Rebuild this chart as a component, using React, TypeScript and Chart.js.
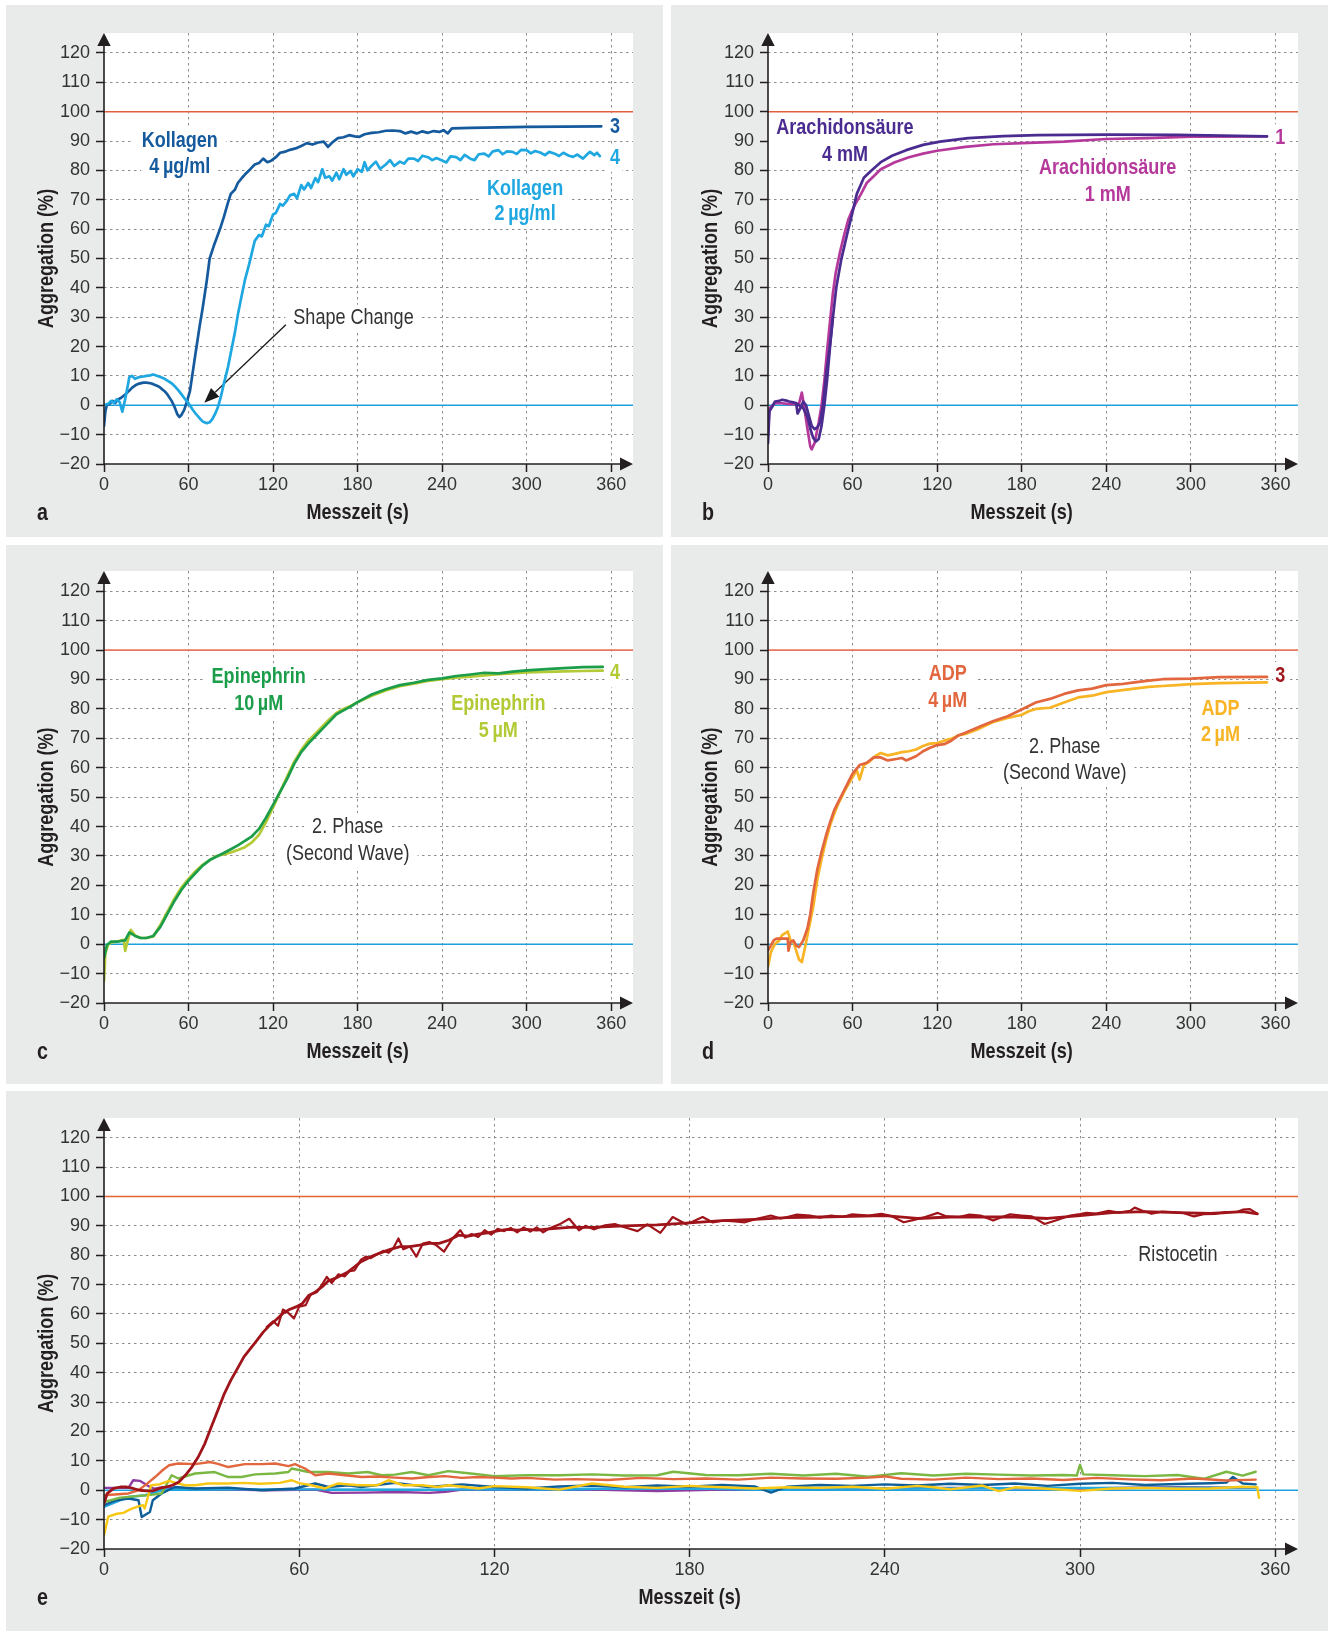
import React, { useEffect, useRef } from 'react';
import { Chart, registerables } from 'chart.js';

Chart.register(...registerables);

// ---------------- tick labels ----------------
const xTickValues = [0, 60, 120, 180, 240, 300, 360];
const yTickValues = [-20, -10, 0, 10, 20, 30, 40, 50, 60, 70, 80, 90, 100, 110, 120];

// ---------------- panel a : Kollagen ----------------
const kollagen4T = [0,1,2,4,6,8,10,12,15,18,20,23,25,28,30,33,35,38,40,43,45,48,50,52,53.5,55,57,59,61,63,65,68,70,73,75,78,80,83,85,88,90,93,95,98,100,104,107,110,113,116,119,122,125,128,132,136,140,144,148,152,156,159,162,166,170,174,178,181,185,190,195,200,205,210,214,218,222,226,230,234,238,241,244,247,260,300,353];
const kollagen4V = [-7,-2,0,0.5,1.5,0.8,2,2.5,3.7,5,6,7,7.4,7.7,7.7,7.5,7.2,6.6,6,4.8,3.7,1.5,-0.5,-3,-4,-3.3,-1.5,1.5,4.8,11.3,17.8,27.3,33,42.6,50,54.4,57,61,64,69,72,73.5,75.7,77.5,78.6,80.5,82,82.5,84,82.8,83.4,84.5,86,86.3,87,87.5,88.3,89.3,88.8,89.5,89.8,88,89.5,91,91.3,92,91.6,91.4,92.3,92.8,93,93.5,93.6,93.4,92.6,93.2,92.6,93.3,92.8,93.4,93.1,93.7,92.6,94.3,94.5,94.8,95];
const kollagen2T = [0,3,5,7,9,11,13,15,17,18,20,22,25,28,30,33,35,38,40,43,45,48,50,53,55,58,60,63,65,68,70,73,75,77,79,81,83,85,88,90,93,95,98,100,103,105,107,110,112,115,117,120,122,125,127,130,132,135,137,140,142,145,147,150,152,155,157,160,162,165,167,170,172,175,177,180,183,185,187,190,193,196,200,203,206,210,213,216,220,223,226,230,233,236,240,243,246,250,253,256,260,263,266,270,273,276,280,283,286,290,293,296,300,303,306,310,313,316,320,323,326,330,333,336,340,343,345,348,350,352];
const kollagen2V = [0,0.5,1.5,0.8,2,1.2,-2.2,2,7,9.6,10,9,9.6,9.8,10,10.2,10.5,10,9.6,9,8.4,7.5,6.6,5,3.7,1.8,0.7,-1.5,-2.8,-4.5,-5.5,-6.1,-5.8,-4.6,-2.8,-0.5,3,7.2,13,17.8,25,30.8,38,42.6,48,52,56,58,57.5,61.5,61,65,65.5,68.6,68,69.8,71.5,72,70.5,75,73.5,75.7,74,77.4,76,80.4,77.5,78,76.5,79.2,77,80.4,78.5,79.8,78,80.4,79.5,82.8,80,81.6,83,80.5,82,83.5,81.5,83,82.3,84,84,83.2,85,84.5,83.5,84.2,83.4,82.7,84.8,84.5,83.5,85.3,84,83.5,85.5,85.7,84.8,86.5,86.9,85.5,86.5,86.3,85.6,87,86.9,85.8,86.6,86,85.2,86.3,85.7,84.9,86,85,84.6,85.4,84,85.5,86.3,85.2,86,84.9];

// ---------------- panel b : Arachidonsäure ----------------
const arachi4T = [0,1,3,5,8,10,13,15,18,20,21,23,25,27,29,31,33,35,37,39,41,43.6,46,48.5,52,56,59.6,63,68,73,80,88,98,110,122,142,167,191,241,290,354];
const arachi4V = [-12.9,-2,-0.5,1.3,1.5,1.9,1.6,1.3,1,0.7,-2.8,-1,1.3,0,-3.5,-7,-8.1,-7.5,-5.8,0,9.6,19,29.6,40.3,49.7,58,65,72,77.5,79.8,82.8,85,86.9,88.7,89.8,91,91.7,92,92.2,92.1,91.6];
const arachi4bT = [20,22,25,28,30,32,34,36,38,40,42,44,46];
const arachi4bV = [0.7,0,-1,-4,-8,-11,-12.3,-11.5,-7,0,9,20,30];
const arachi1T = [0,1,5,10,15,20,22,24,25.5,28,30,31,33,36,38,40,42,44,46,48,51,54,57,59,62,66,70,75,80,90,100,110,120,140,160,180,210,240,270,300,354];
const arachi1V = [-10,-1,0.7,0.7,0.4,0.4,0.5,4.3,0,-8.1,-14,-15,-12.9,-5.8,0,8.4,19,28.5,38,45,52,58,63.3,65.6,68.6,72,75.7,78,80.4,82.8,84.5,85.7,86.7,88,88.9,89.3,89.8,90.7,91,91.5,91.6];

// ---------------- panel c : Epinephrin ----------------
const epi10T = [0,2,5,10,15,18,22,26,30,35,40,45,50,55,60,65,70,75,80,85,90,95,100,105,110,115,120,125,130,135,140,145,150,155,160,165,170,175,180,190,200,210,220,230,240,250,260,270,280,290,300,320,340,354];
const epi10V = [-4.8,-0.4,0.9,0.9,1.3,4,2.8,2.1,2.1,2.8,5.9,10.3,14.7,18.5,21.6,24.2,26.7,28.6,29.8,31,32.3,33.6,35.1,36.7,39.2,43,47.4,51.8,56.2,61.3,65.3,68.2,70.7,73.2,75.7,78.2,79.5,80.8,82.3,84.9,86.7,88.1,88.9,89.9,90.4,91.2,91.7,92.3,92.1,92.7,93.1,93.7,94.2,94.3];
const epi5T = [0,1,3,5,10,14,15,17,19,22,26,30,35,40,45,50,55,60,65,70,75,80,85,90,95,100,105,110,115,120,125,130,135,140,145,150,155,160,165,170,175,180,190,200,210,220,230,240,250,260,270,280,290,300,320,340,354];
const epi5V = [-12.5,-3,0,0.5,1,1.5,-2.3,1.5,4.9,3,2.1,2.1,2.6,6.5,11,15.5,19.3,22.2,24.8,27,28.6,30,30.5,31.2,32,33,34.6,37.2,41.5,46.5,51.8,57,62,66,69.2,71.6,74,76.5,78.6,80,81,82.3,84.5,86.3,87.7,88.6,89.5,90.1,90.6,91,91.4,91.8,92.1,92.4,92.7,92.9,93];

// ---------------- panel d : ADP ----------------
const adp4T = [0,2,4,6,10,14,14.5,16,18,20,22,25,28,30,32,35,38,41,44,47,50,55,60,65,70,75,80,85,90,95,98,105,110,115,120,125,130,135,140,150,160,170,180,190,200,210,220,230,240,250,260,270,280,290,300,320,354];
const adp4V = [-2.2,-0.5,1.3,1.9,1.9,1.9,-2.2,0.7,1.3,-0.5,-1,1.3,5.4,10.2,17.2,25.5,31.4,36.7,41.4,45.6,48.5,53.2,58,60.9,61.7,63.5,63.5,62.5,62.9,63.3,62.5,63.9,65.6,66.8,67.7,68,69.2,71,71.9,73.9,75.9,77.5,79.8,82.2,83.4,85.1,86.3,86.9,88.1,88.4,89,89.6,90.1,90.2,90.3,90.8,90.9];
const adp2T = [0,2,3,5,8,10,12,14,16,18,20,22,24,26,29,32,35,38,41,44,47,50,55,60,63,65,68,72,76,80,85,90,95,100,105,110,115,120,125,130,135,140,150,160,170,180,185,190,200,210,220,230,240,250,260,270,280,290,300,320,354];
const adp2V = [-7.6,-2.8,-1.7,0.1,1.3,3.1,3.7,4.3,1.3,0.7,-2.2,-5.2,-6.1,-1.7,5.4,12.5,22,29,35,40.3,44.4,47.9,52.7,56.8,59.1,56,60.9,62.1,63.9,65,64.2,64.7,65.3,65.6,66.2,67.4,68.2,68.4,69.2,69.8,71,71.5,73.3,75.6,76.9,78,79.2,80,80.4,82.2,83.9,84.5,85.7,86.3,86.9,87.5,87.8,88.1,88.4,88.8,89];

// ---------------- panel e : Ristocetin + others ----------------
const ristoT = [0,1,3,5,7,9,11,13,15,17,19,21,23,25,27,29,31,33,35,37,39,41,43,45,47,49,51,53,55,57,59,61,63,65,67,69,71,73,75,77,79,81,83,85,88,91,94,97,100,103,106,109,112,115,118,121,124,127,130,133,136,143,150,160,170,180,190,200,210,220,230,240,250,260,270,280,290,300,310,320,330,340,350,354.5];
const ristoV = [-4.5,-1.1,0.6,1.1,1.1,0.6,0,-0.2,-0.2,0.6,1.1,1.7,2.8,5.1,7.9,11.4,15.9,21.6,27.2,32.9,37.5,41.4,45.4,48.2,51,53.9,56.2,58.1,60.2,61.5,62.4,63.6,66.4,67.5,69.2,71.3,72.1,73.2,74.3,76,77.8,78.9,80,80.8,82,82.9,82.9,83.4,84,84,85.1,86.8,86.5,87.2,87.6,88.3,88.8,88.5,88.8,88.5,88.9,89.5,89.5,90,90.3,91,91.8,92.2,92.8,93,93.2,93.5,92.5,93,93,93,92.5,93.5,94.5,94.8,94.5,94.2,94.8,94.1];
const ristoNoisyT = [50,52,53.5,55,56.5,58.4,60,62,63.5,65.5,67,68.5,70,72,74,75.5,77,79,80.5,82,84,86,87.5,89,90.5,92,94,96,98,100,102,104.5,107,109.5,111,113,115,117,119,121,123,125,127,129,131,133,135,137,140,143,146,148,150.5,154,157,160,164,167,171,174.8,178.8,181,184,187,190.6,194,197,201,205,208,210,213,217,220,223.5,227,230,235,239,242,245.8,249,252.4,256.3,259,262.8,266,269.4,273.3,276,278.5,282,285.2,289.1,293,297,300,302,305,308.8,312,315.4,316.8,319,322,325,328.5,332,335,338,341.7,345,348.2,350,352.2,354.5];
const ristoNoisyV = [55.5,57.5,56,61.5,60.5,58.5,62.5,63,66.5,67.5,70,72.6,70.5,73.5,72.8,74.6,74.8,78.5,79.5,79,80.3,81.5,80.8,82.5,85.7,82,83,79.5,84,84.5,83.5,81.2,85.5,88.5,86,87.2,86.2,88.5,87,89,88.2,89.3,87.8,89.5,88,89.5,87.8,89.2,90.5,92.4,88.5,90,88.8,90.2,90.6,89.5,88.2,90.5,87.6,93,90.6,91.5,93,91.2,91.8,91.5,91.2,92.5,93.5,92.5,93,93.8,93.5,92.8,93.5,93,93.9,93.5,94.1,93.3,91.2,92,93,94.4,93.2,93,93.8,93.5,91.8,93,93.9,93.5,93.2,90.6,92,93.5,94,94.4,94.2,95.1,94.5,95.1,96.2,95.2,94.1,94.8,94.7,94.3,93.2,94,94.1,94.7,94.7,95.5,95.7,94.1];
const eOrangeT = [0,7.5,10.6,13,15.7,18,20,22.8,28,32.6,35,38.2,43.3,48.5,52.6,56.7,58.7,61.8,64.9,69,74.1,79.2,84,89.4,94.6,100,104.8,110,115,120,125.3,130,138.6,145,155,165,175,185,195,205,215,225,235,240,245,255,265,275,285,295,305,315,325,335,345,354];
const eOrangeV = [-1.7,-1.1,0,2,4.5,6.8,8.5,9.1,8.9,9.6,9,7.9,8.9,8.9,9.1,8.2,8.9,7.4,5.1,5.7,5.1,4.5,4.7,4.3,4,4.5,4.8,4.2,4.5,4.3,4,4.2,3.6,3.8,3.5,4.2,3.8,4,3.6,4.3,4,3.9,4.3,4.7,3.9,3.6,4.3,3.8,4,3.5,4.2,3.7,3.4,4,3.3,3.6];
const eGreenT = [0,5,10,15,17.7,20.8,22.8,28,34,38.2,42.3,46.4,52.6,56.7,57.7,62.8,69,75,81,85.3,89.4,94.6,99.7,105.8,112,120,130,140,150,160,170,175,185,195,205,215,225,235,245,255,265,275,285,295,299,300,301,310,320,330,338,345,350,354];
const eGreenV = [-4,-2.5,-2,-1.5,-1.1,5.1,4,5.7,6.2,4.5,4.5,5.4,5.7,6.2,7.4,6.2,6.2,5.7,6.2,5.1,5.3,6.2,5.1,6.5,5.8,4.8,5.1,5.1,5.4,5,5.1,6.3,5.2,5.1,5.6,5,5.6,4.6,5.8,5,5.6,5.3,5,5.2,5,8.7,5.4,5.1,4.8,5.2,3.9,6.3,5,6.3];
const eYellowT = [0,1.3,4,6,8,10.5,12,12.5,14.5,17,20,22,25,28,32,38,43,48,54,57.7,60,63.8,67.9,72,78,84,87.4,92,97.7,102.5,106,110,115,120,130,140,150,160,170,180,190,200,210,220,230,240,250,255,260,270,275,280,290,300,310,320,330,340,350,354.5,355];
const eYellowV = [-15.3,-9,-8,-7.7,-6.5,-5.5,-5.1,-6.2,1.7,2,3.2,2.5,1.7,1.7,2.3,2.3,2.5,2.2,2.5,3.4,2.4,1.7,0.6,2.3,1.7,1.7,3.4,1.7,1.7,1.1,1.7,1.2,0.6,1.4,1,0.2,2.3,1.2,0.8,1.5,1,0.6,1,0.8,1.2,0.5,1.5,1,0.3,1.6,-0.3,1,0.5,-0.2,0.6,0.8,0.5,0.6,1.2,1,-2.6];
const eDarkBlueT = [0,3.4,7.5,10.6,11.6,14.1,15,17.7,21.8,28,38.2,48.5,58.7,64.9,69,75,79,89.4,99.7,110,120,130,140,150,160,170,180,190,200,205,210,220,230,240,250,260,270,280,290,300,310,320,330,340,345,347,350,354];
const eDarkBlueV = [-5.1,-3.5,-2.8,-3.4,-9.1,-7.4,-3.4,-1.1,1.1,0.6,0.9,0,0.6,2.3,1.1,1.7,1.1,2.5,1.1,2,1.1,0.6,1.3,1.6,1,1.6,1.2,1.8,1.3,-0.8,1.2,1.8,1.5,2,1.6,2.2,1.8,2.3,1.5,2.2,2.5,1.8,2.1,2.4,2.6,4.5,2.3,2];
const eLightBlueT = [0,7.5,12.7,17.7,22.8,30,60,100,150,200,250,300,354];
const eLightBlueV = [-5.7,-2.3,-1.7,0,0.6,0.3,0.3,0.2,0.5,0.5,0.6,0.8,0.9];
const ePurpleT = [0,7.5,9,11,13.5,15.5,17.7,25,40,50,65,70,80,90,100,105,110,120,140,170,200,230,260,300,330,354];
const ePurpleV = [0.8,0.8,3.4,3.2,1.5,0.5,1,0.5,0.2,0,0.2,-0.9,-0.8,-0.6,-0.9,-0.5,0.2,0.3,0.5,-0.3,0.5,0.6,0.8,0.6,1,0.8];

// ---------------- styles ----------------
const SANS = "'Liberation Sans', Arial, sans-serif";
const CONDENSE = 0.82;
const GRAY_BG = '#e9eaea';
const AXIS = '#231f20';
const GRID = '#8e8e8e';
const TEXT = '#333333';
const LINE0 = '#1ca1dc';

const DARKBLUE = '#165a9e';
const LIGHTBLUE = '#1fa7e1';
const INDIGO = '#4a2c90';
const MAGENTA = '#b5399b';
const GREEN = '#1b9d4a';
const YGREEN = '#b3c935';
const ORANGE = '#e2663e';
const AMBER = '#f8b424';
const DARKRED = '#a0171d';
const RISTO = '#9f141a';
const EGREEN = '#7bb843';
const EYELLOW = '#f8c814';
const EDBLUE = '#0e5e97';
const ELBLUE = '#22a7df';
const EPURPLE = '#8e3ca0';

type Series = { t: number[]; v: number[]; color: string; width: number };
type Lbl = { t: number; v: number; text: string; color: string; bold: boolean; size: number; pad: number };

const S = (t: number[], v: number[], color: string, width = 2.7): Series => ({ t, v, color, width });
const B = (t: number, v: number, text: string, color: string, pad = 8): Lbl => ({ t, v, text, color, bold: true, size: 22, pad });
const R = (t: number, v: number, text: string): Lbl => ({ t, v, text, color: TEXT, bold: false, size: 22, pad: 8 });
const N = (t: number, v: number, text: string, color: string): Lbl => ({ t, v, text, color, bold: true, size: 22, pad: 2 });

const TS = '\u2009';

const PANELS = [
  {
    letter: 'a', box: [6, 5, 657, 532], area: [104, 33, 633, 464], xMax: 375.5, yMax: 126.8, line100: '#e2603c',
    series: [S(kollagen2T, kollagen2V, LIGHTBLUE), S(kollagen4T, kollagen4V, DARKBLUE)],
    labels: [
      B(53.8, 90, 'Kollagen', DARKBLUE), B(53.8, 81.1, '4' + TS + 'µg/ml', DARKBLUE),
      B(298.9, 73.6, 'Kollagen', LIGHTBLUE), B(298.9, 65.1, '2' + TS + 'µg/ml', LIGHTBLUE),
      N(362.7, 94.8, '3', DARKBLUE), N(362.7, 84.2, '4', LIGHTBLUE),
      R(177.1, 29.6, 'Shape Change'),
    ],
    arrow: { t1: 129.1, v1: 27.4, t2: 71.2, v2: 0.9 },
  },
  {
    letter: 'b', box: [671, 5, 657, 532], area: [768, 33, 1298, 464], xMax: 376, yMax: 126.8, line100: '#e2603c',
    series: [S(arachi4T, arachi4V, INDIGO), S(arachi4bT, arachi4bV, INDIGO), S(arachi1T, arachi1V, MAGENTA)],
    labels: [
      B(54.6, 94.3, 'Arachidonsäure', INDIGO), B(54.6, 85.2, '4 mM', INDIGO),
      B(241, 80.7, 'Arachidonsäure', MAGENTA), B(241, 71.6, '1 mM', MAGENTA),
      N(363.4, 91.1, '1', MAGENTA),
    ],
  },
  {
    letter: 'c', box: [6, 545, 657, 539], area: [104, 571, 633, 1003], xMax: 375.5, yMax: 126.9, line100: '#e6775c',
    series: [S(epi10T, epi10V, GREEN), S(epi5T, epi5V, YGREEN)],
    labels: [
      B(109.8, 90.8, 'Epinephrin', GREEN), B(109.8, 81.7, '10' + TS + 'µM', GREEN),
      B(279.9, 81.7, 'Epinephrin', YGREEN), B(279.9, 72.6, '5' + TS + 'µM', YGREEN),
      N(362.7, 92.1, '4', YGREEN),
      R(173, 39.9, '2. Phase'), R(173, 30.7, '(Second Wave)'),
    ],
  },
  {
    letter: 'd', box: [671, 545, 657, 539], area: [768, 571, 1298, 1003], xMax: 376, yMax: 126.9, line100: '#e6775c',
    series: [S(adp4T, adp4V, ORANGE), S(adp2T, adp2V, AMBER)],
    labels: [
      B(127.5, 92, 'ADP', ORANGE), B(127.5, 82.8, '4' + TS + 'µM', ORANGE),
      B(321, 80.1, 'ADP', AMBER), B(321, 71.3, '2' + TS + 'µM', AMBER),
      N(363.4, 91.3, '3', DARKRED),
      R(210.5, 67.1, '2. Phase'), R(210.5, 58.4, '(Second Wave)'),
    ],
  },
  {
    letter: 'e', box: [6, 1091, 1322, 540], area: [104, 1118, 1298, 1549], xMax: 367, yMax: 126.7, line100: '#e8642e',
    series: [
      S(ristoT, ristoV, RISTO, 2.8), S(ristoNoisyT, ristoNoisyV, RISTO, 2.2),
      S(eYellowT, eYellowV, EYELLOW, 2.4), S(eOrangeT, eOrangeV, ORANGE, 2.4), S(eGreenT, eGreenV, EGREEN, 2.4),
      S(eDarkBlueT, eDarkBlueV, EDBLUE, 2.4), S(eLightBlueT, eLightBlueV, ELBLUE, 2.4), S(ePurpleT, ePurpleV, EPURPLE, 2.4),
    ],
    labels: [R(330.1, 80.1, 'Ristocetin')],
  },
];

const fontOf = (bold: boolean, size: number) => `${bold ? 'bold ' : ''}${size}px ${SANS}`;

// condensed text (horizontal scale) to imitate the narrow typeface of the original
function cText(ctx: any, text: string, x: number, y: number, font: string, align: string) {
  ctx.save();
  ctx.font = font;
  ctx.translate(x, y);
  ctx.scale(CONDENSE, 1);
  ctx.textAlign = align;
  ctx.fillText(text, 0, 0);
  ctx.restore();
}

const minusFmt = (v: number) => (v < 0 ? '\u2212' + Math.abs(v) : String(v));

function makeDeco(cfg: any) {
  return {
    id: 'deco',
    beforeDraw(chart: any) {
      const { ctx, chartArea: a } = chart;
      ctx.save();
      ctx.fillStyle = GRAY_BG;
      ctx.fillRect(0, 0, chart.width, chart.height);
      ctx.fillStyle = '#ffffff';
      ctx.fillRect(a.left, a.top, a.right - a.left, a.bottom - a.top);
      ctx.restore();
    },
    beforeDatasetsDraw(chart: any) {
      const { ctx, chartArea: a } = chart;
      const x = chart.scales.x;
      const y = chart.scales.y;
      ctx.save();
      // white boxes behind annotation texts
      for (const l of cfg.labels as Lbl[]) {
        ctx.font = fontOf(l.bold, l.size);
        const w = ctx.measureText(l.text).width * CONDENSE;
        const cx = x.getPixelForValue(l.t);
        const cy = y.getPixelForValue(l.v);
        ctx.fillStyle = '#ffffff';
        ctx.fillRect(cx - w / 2 - l.pad, cy - l.size * 0.62, w + 2 * l.pad, l.size * 1.24);
      }
      // reference lines at 100 % and 0 %
      ctx.lineWidth = 1.6;
      ctx.strokeStyle = cfg.line100;
      const y100 = y.getPixelForValue(100);
      ctx.beginPath(); ctx.moveTo(a.left, y100); ctx.lineTo(a.right, y100); ctx.stroke();
      ctx.strokeStyle = LINE0;
      const y0 = y.getPixelForValue(0);
      ctx.beginPath(); ctx.moveTo(a.left, y0); ctx.lineTo(a.right, y0); ctx.stroke();
      // annotation texts
      ctx.textBaseline = 'middle';
      for (const l of cfg.labels as Lbl[]) {
        ctx.fillStyle = l.color;
        cText(ctx, l.text, x.getPixelForValue(l.t), y.getPixelForValue(l.v), fontOf(l.bold, l.size), 'center');
      }
      // arrow
      if (cfg.arrow) {
        const { t1, v1, t2, v2 } = cfg.arrow;
        const x1 = x.getPixelForValue(t1), y1 = y.getPixelForValue(v1);
        const x2 = x.getPixelForValue(t2), y2 = y.getPixelForValue(v2);
        const ang = Math.atan2(y2 - y1, x2 - x1);
        const hl = 15, hw = 6;
        const bx = x2 - hl * Math.cos(ang), by = y2 - hl * Math.sin(ang);
        ctx.strokeStyle = '#1a1a1a';
        ctx.lineWidth = 1.3;
        ctx.beginPath(); ctx.moveTo(x1, y1); ctx.lineTo(bx, by); ctx.stroke();
        ctx.fillStyle = '#1a1a1a';
        ctx.beginPath();
        ctx.moveTo(x2, y2);
        ctx.lineTo(bx + hw * Math.sin(ang), by - hw * Math.cos(ang));
        ctx.lineTo(bx - hw * Math.sin(ang), by + hw * Math.cos(ang));
        ctx.closePath();
        ctx.fill();
      }
      ctx.restore();
    },
    afterDatasetsDraw(chart: any) {
      const { ctx, chartArea: a } = chart;
      const x = chart.scales.x;
      const y = chart.scales.y;
      const xl = x.getPixelForValue(0);
      const yb = y.getPixelForValue(-20);
      ctx.save();
      ctx.strokeStyle = AXIS;
      ctx.fillStyle = AXIS;
      ctx.lineWidth = 1.6;
      ctx.beginPath(); ctx.moveTo(xl, yb); ctx.lineTo(a.right - 10, yb); ctx.stroke();
      ctx.beginPath(); ctx.moveTo(xl, yb); ctx.lineTo(xl, a.top + 10); ctx.stroke();
      ctx.beginPath();
      ctx.moveTo(a.right, yb); ctx.lineTo(a.right - 13, yb - 6.5); ctx.lineTo(a.right - 13, yb + 6.5);
      ctx.closePath(); ctx.fill();
      ctx.beginPath();
      ctx.moveTo(xl, a.top); ctx.lineTo(xl - 6.7, a.top + 13); ctx.lineTo(xl + 6.7, a.top + 13);
      ctx.closePath(); ctx.fill();
      // axis titles
      ctx.textBaseline = 'middle';
      const xc = (x.getPixelForValue(0) + x.getPixelForValue(360)) / 2;
      cText(ctx, 'Messzeit (s)', xc, yb + 48.5, fontOf(true, 22), 'center');
      const yc = (y.getPixelForValue(-20) + y.getPixelForValue(120)) / 2;
      ctx.save();
      ctx.translate(xl - 57, yc);
      ctx.rotate(-Math.PI / 2);
      cText(ctx, 'Aggregation (%)', 0, 0, fontOf(true, 22), 'center');
      ctx.restore();
      // panel letter
      ctx.textBaseline = 'alphabetic';
      cText(ctx, cfg.letter, 31, yb + 55.5, fontOf(true, 24), 'left');
      ctx.restore();
    },
  };
}

function Panel({ cfg }: { cfg: any }) {
  const ref = useRef<HTMLCanvasElement | null>(null);
  const [bl, bt, bw, bh] = cfg.box;
  const [al, at, ar, ab] = cfg.area;
  useEffect(() => {
    if (!ref.current) return;
    const gridColorY = (c: any) => (c.tick && (c.tick.value === -20 || c.tick.value === 0 || c.tick.value === 100) ? 'rgba(0,0,0,0)' : GRID);
    const gridColorX = (c: any) => (c.tick && c.tick.value === 0 ? 'rgba(0,0,0,0)' : GRID);
    const chart = new Chart(ref.current, {
      type: 'line',
      data: {
        datasets: cfg.series.map((s: Series) => ({
          data: s.t.map((tv, i) => ({ x: tv, y: s.v[i] })),
          borderColor: s.color,
          borderWidth: s.width,
          pointRadius: 0,
          pointHoverRadius: 0,
          tension: 0,
          fill: false,
          borderJoinStyle: 'round',
          borderCapStyle: 'round',
        })),
      },
      options: {
        animation: false,
        responsive: false,
        devicePixelRatio: 1,
        events: [],
        layout: { padding: { left: 0, top: at - bt, right: bl + bw - ar, bottom: 0 } },
        plugins: { legend: { display: false }, tooltip: { enabled: false }, title: { display: false } },
        scales: {
          x: {
            type: 'linear',
            min: 0,
            max: cfg.xMax,
            afterFit: (s: any) => { s.height = bt + bh - ab; },
            afterBuildTicks: (s: any) => { s.ticks = xTickValues.map((v) => ({ value: v })); },
            grid: { color: gridColorX, lineWidth: 1, drawTicks: true, tickLength: 8, tickColor: AXIS, tickWidth: 1.5, borderDash: [2.5, 3.5] },
            border: { display: false, dash: [2.5, 3.5] },
            ticks: { autoSkip: false, maxRotation: 0, padding: 2, color: TEXT, font: { family: SANS, size: 18 }, callback: (v: any) => minusFmt(Number(v)) },
          },
          y: {
            type: 'linear',
            min: -20,
            max: cfg.yMax,
            afterFit: (s: any) => { s.width = al - bl; },
            afterBuildTicks: (s: any) => { s.ticks = yTickValues.map((v) => ({ value: v })); },
            grid: { color: gridColorY, lineWidth: 1, drawTicks: true, tickLength: 8, tickColor: AXIS, tickWidth: 1.5, borderDash: [2.5, 3.5] },
            border: { display: false, dash: [2.5, 3.5] },
            ticks: { autoSkip: false, padding: 6, color: TEXT, font: { family: SANS, size: 18 }, callback: (v: any) => minusFmt(Number(v)) },
          },
        },
      } as any,
      plugins: [makeDeco(cfg)],
    });
    return () => chart.destroy();
  }, []);
  return (
    <canvas
      ref={ref}
      width={bw}
      height={bh}
      style={{ position: 'absolute', left: bl, top: bt, width: bw, height: bh, display: 'block' }}
    />
  );
}

export default function App() {
  return (
    <div style={{ position: 'absolute', left: 0, top: 0, width: 1330, height: 1631, background: '#ffffff', overflow: 'hidden' }}>
      {PANELS.map((p) => (
        <Panel key={p.letter} cfg={p} />
      ))}
    </div>
  );
}
